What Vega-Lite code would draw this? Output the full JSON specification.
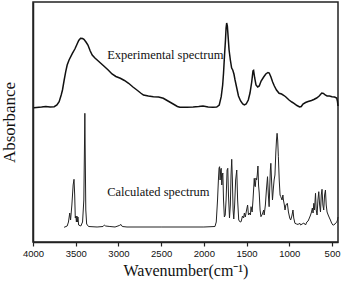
{
  "$schema": "https://vega.github.io/schema/vega-lite/v6.json",
  "width": 305,
  "height": 240,
  "autosize": "none",
  "padding": {"left": 33, "top": 2, "right": 5, "bottom": 47},
  "background": "white",
  "config": {"view": {"stroke": "#222", "strokeWidth": 1.5}, "axis": {"grid": false}},
  "datasets": {
    "exp": [
      {"wn": 3990, "A": 133.3}, {"wn": 3900, "A": 134}, {"wn": 3850, "A": 134.5}, {"wn": 3800, "A": 134},
      {"wn": 3752, "A": 134.3}, {"wn": 3720, "A": 136}, {"wn": 3694, "A": 139.3}, {"wn": 3670, "A": 146},
      {"wn": 3655, "A": 151}, {"wn": 3635, "A": 161}, {"wn": 3617, "A": 169.3}, {"wn": 3600, "A": 176},
      {"wn": 3578, "A": 181}, {"wn": 3539, "A": 187.7}, {"wn": 3510, "A": 192}, {"wn": 3489, "A": 196},
      {"wn": 3465, "A": 200.5}, {"wn": 3443, "A": 202.7}, {"wn": 3420, "A": 202.5}, {"wn": 3404, "A": 201.7},
      {"wn": 3380, "A": 199}, {"wn": 3357, "A": 196}, {"wn": 3330, "A": 190}, {"wn": 3307, "A": 186},
      {"wn": 3275, "A": 183}, {"wn": 3249, "A": 181}, {"wn": 3210, "A": 178}, {"wn": 3171, "A": 175},
      {"wn": 3120, "A": 171}, {"wn": 3075, "A": 167}, {"wn": 3030, "A": 164.5}, {"wn": 2978, "A": 162.7},
      {"wn": 2930, "A": 160.5}, {"wn": 2881, "A": 157.7}, {"wn": 2830, "A": 154}, {"wn": 2784, "A": 151},
      {"wn": 2740, "A": 148}, {"wn": 2707, "A": 146}, {"wn": 2650, "A": 145}, {"wn": 2591, "A": 144.3},
      {"wn": 2530, "A": 144}, {"wn": 2475, "A": 142.7}, {"wn": 2420, "A": 140}, {"wn": 2359, "A": 137},
      {"wn": 2310, "A": 134.5}, {"wn": 2281, "A": 133.7}, {"wn": 2200, "A": 133.7}, {"wn": 2126, "A": 134},
      {"wn": 2060, "A": 134.5}, {"wn": 2010, "A": 135}, {"wn": 1950, "A": 134}, {"wn": 1894, "A": 133.7},
      {"wn": 1850, "A": 134}, {"wn": 1820, "A": 136}, {"wn": 1797, "A": 144.3}, {"wn": 1780, "A": 156},
      {"wn": 1770, "A": 167.7}, {"wn": 1758, "A": 186}, {"wn": 1747, "A": 201}, {"wn": 1740, "A": 213},
      {"wn": 1733, "A": 218}, {"wn": 1725, "A": 215}, {"wn": 1715, "A": 203}, {"wn": 1705, "A": 191},
      {"wn": 1690, "A": 181}, {"wn": 1675, "A": 173}, {"wn": 1662, "A": 171}, {"wn": 1648, "A": 167},
      {"wn": 1635, "A": 161}, {"wn": 1615, "A": 153}, {"wn": 1595, "A": 145}, {"wn": 1570, "A": 140},
      {"wn": 1545, "A": 137}, {"wn": 1526, "A": 136}, {"wn": 1505, "A": 137}, {"wn": 1480, "A": 141},
      {"wn": 1460, "A": 148}, {"wn": 1440, "A": 159}, {"wn": 1425, "A": 170}, {"wn": 1418, "A": 170.5},
      {"wn": 1405, "A": 163}, {"wn": 1390, "A": 156}, {"wn": 1370, "A": 154}, {"wn": 1352, "A": 155},
      {"wn": 1330, "A": 160}, {"wn": 1300, "A": 164}, {"wn": 1275, "A": 167}, {"wn": 1250, "A": 168.5},
      {"wn": 1235, "A": 168}, {"wn": 1215, "A": 164}, {"wn": 1195, "A": 159}, {"wn": 1175, "A": 155},
      {"wn": 1150, "A": 151}, {"wn": 1120, "A": 147.7}, {"wn": 1090, "A": 147}, {"wn": 1062, "A": 145.5},
      {"wn": 1040, "A": 144}, {"wn": 1003, "A": 141}, {"wn": 970, "A": 139}, {"wn": 945, "A": 137.7},
      {"wn": 910, "A": 135.5}, {"wn": 880, "A": 134}, {"wn": 860, "A": 134.5}, {"wn": 840, "A": 137},
      {"wn": 810, "A": 138.5}, {"wn": 780, "A": 139.5}, {"wn": 740, "A": 140.5}, {"wn": 713, "A": 141.5},
      {"wn": 680, "A": 143}, {"wn": 650, "A": 145}, {"wn": 620, "A": 148}, {"wn": 600, "A": 147.5},
      {"wn": 580, "A": 146}, {"wn": 558, "A": 145}, {"wn": 530, "A": 145}, {"wn": 500, "A": 144.3},
      {"wn": 470, "A": 144}, {"wn": 445, "A": 143}, {"wn": 437, "A": 140}, {"wn": 430, "A": 135}
    ],
    "calc": [
      {"wn": 3636, "A": 13.7}, {"wn": 3600, "A": 15}, {"wn": 3585, "A": 19}, {"wn": 3570, "A": 28},
      {"wn": 3560, "A": 21}, {"wn": 3545, "A": 36}, {"wn": 3530, "A": 56}, {"wn": 3520, "A": 61.7},
      {"wn": 3512, "A": 46}, {"wn": 3505, "A": 23}, {"wn": 3498, "A": 25}, {"wn": 3492, "A": 19},
      {"wn": 3486, "A": 25}, {"wn": 3480, "A": 19}, {"wn": 3474, "A": 24}, {"wn": 3466, "A": 16},
      {"wn": 3440, "A": 15}, {"wn": 3420, "A": 19}, {"wn": 3405, "A": 41}, {"wn": 3398, "A": 91},
      {"wn": 3393, "A": 127.7}, {"wn": 3388, "A": 81}, {"wn": 3382, "A": 31}, {"wn": 3372, "A": 17},
      {"wn": 3350, "A": 14.5}, {"wn": 3250, "A": 14}, {"wn": 3180, "A": 14.5}, {"wn": 3164, "A": 16},
      {"wn": 3150, "A": 15}, {"wn": 3100, "A": 14.5}, {"wn": 3040, "A": 14}, {"wn": 2990, "A": 15.5},
      {"wn": 2970, "A": 16.5}, {"wn": 2955, "A": 14.5}, {"wn": 2900, "A": 14}, {"wn": 2500, "A": 14},
      {"wn": 2000, "A": 14}, {"wn": 1870, "A": 14.5}, {"wn": 1855, "A": 19}, {"wn": 1840, "A": 41},
      {"wn": 1830, "A": 61}, {"wn": 1822, "A": 73}, {"wn": 1816, "A": 74.3}, {"wn": 1810, "A": 61},
      {"wn": 1803, "A": 71}, {"wn": 1797, "A": 72.7}, {"wn": 1790, "A": 56}, {"wn": 1784, "A": 66},
      {"wn": 1778, "A": 68}, {"wn": 1770, "A": 41}, {"wn": 1760, "A": 24}, {"wn": 1750, "A": 26},
      {"wn": 1740, "A": 41}, {"wn": 1728, "A": 71}, {"wn": 1720, "A": 72.7}, {"wn": 1712, "A": 46},
      {"wn": 1700, "A": 23}, {"wn": 1690, "A": 36}, {"wn": 1682, "A": 66}, {"wn": 1674, "A": 81.7},
      {"wn": 1666, "A": 61}, {"wn": 1658, "A": 31}, {"wn": 1650, "A": 22}, {"wn": 1640, "A": 36},
      {"wn": 1628, "A": 61}, {"wn": 1615, "A": 71}, {"wn": 1605, "A": 41}, {"wn": 1592, "A": 21},
      {"wn": 1575, "A": 19}, {"wn": 1564, "A": 19.3}, {"wn": 1548, "A": 25}, {"wn": 1535, "A": 23},
      {"wn": 1526, "A": 28}, {"wn": 1515, "A": 24}, {"wn": 1500, "A": 31}, {"wn": 1488, "A": 36},
      {"wn": 1478, "A": 26}, {"wn": 1468, "A": 28}, {"wn": 1455, "A": 26}, {"wn": 1448, "A": 34.3},
      {"wn": 1435, "A": 29}, {"wn": 1425, "A": 41}, {"wn": 1410, "A": 62.7}, {"wn": 1404, "A": 55},
      {"wn": 1398, "A": 54.3}, {"wn": 1390, "A": 63}, {"wn": 1383, "A": 61}, {"wn": 1375, "A": 66},
      {"wn": 1367, "A": 75}, {"wn": 1360, "A": 56}, {"wn": 1352, "A": 48}, {"wn": 1342, "A": 31},
      {"wn": 1332, "A": 24.3}, {"wn": 1315, "A": 27}, {"wn": 1300, "A": 31}, {"wn": 1294, "A": 26},
      {"wn": 1280, "A": 36}, {"wn": 1268, "A": 51}, {"wn": 1255, "A": 64.3}, {"wn": 1245, "A": 46},
      {"wn": 1236, "A": 34.3}, {"wn": 1228, "A": 56}, {"wn": 1222, "A": 71}, {"wn": 1216, "A": 77.7},
      {"wn": 1208, "A": 61}, {"wn": 1197, "A": 41}, {"wn": 1188, "A": 51}, {"wn": 1178, "A": 61},
      {"wn": 1168, "A": 66}, {"wn": 1158, "A": 88}, {"wn": 1150, "A": 101}, {"wn": 1143, "A": 107.7},
      {"wn": 1136, "A": 101}, {"wn": 1128, "A": 84.3}, {"wn": 1118, "A": 61}, {"wn": 1108, "A": 46},
      {"wn": 1100, "A": 44.3}, {"wn": 1085, "A": 41}, {"wn": 1075, "A": 46}, {"wn": 1069, "A": 41},
      {"wn": 1058, "A": 36}, {"wn": 1050, "A": 31}, {"wn": 1040, "A": 36}, {"wn": 1023, "A": 37.7},
      {"wn": 1010, "A": 29}, {"wn": 995, "A": 23}, {"wn": 984, "A": 21}, {"wn": 970, "A": 25},
      {"wn": 957, "A": 31}, {"wn": 948, "A": 23}, {"wn": 934, "A": 17.7}, {"wn": 915, "A": 17},
      {"wn": 895, "A": 16.5}, {"wn": 880, "A": 18}, {"wn": 868, "A": 16}, {"wn": 850, "A": 17},
      {"wn": 830, "A": 18}, {"wn": 810, "A": 16}, {"wn": 795, "A": 19}, {"wn": 780, "A": 20},
      {"wn": 765, "A": 23}, {"wn": 751, "A": 26}, {"wn": 740, "A": 29}, {"wn": 730, "A": 33},
      {"wn": 722, "A": 28}, {"wn": 713, "A": 37.7}, {"wn": 705, "A": 31}, {"wn": 698, "A": 41},
      {"wn": 693, "A": 47.7}, {"wn": 685, "A": 31}, {"wn": 675, "A": 26}, {"wn": 665, "A": 41},
      {"wn": 655, "A": 49.3}, {"wn": 645, "A": 36}, {"wn": 635, "A": 29}, {"wn": 626, "A": 46},
      {"wn": 617, "A": 51.7}, {"wn": 607, "A": 36}, {"wn": 597, "A": 31}, {"wn": 587, "A": 46},
      {"wn": 577, "A": 51}, {"wn": 568, "A": 36}, {"wn": 558, "A": 29}, {"wn": 545, "A": 26},
      {"wn": 530, "A": 23}, {"wn": 519, "A": 21}, {"wn": 505, "A": 18}, {"wn": 490, "A": 16},
      {"wn": 481, "A": 16}, {"wn": 465, "A": 17}, {"wn": 452, "A": 18.5}, {"wn": 442, "A": 19.3},
      {"wn": 436, "A": 21}, {"wn": 430, "A": 24}
    ],
    "labels": [
      {"wn": 3132, "A": 186, "label": "Experimental spectrum"},
      {"wn": 3132, "A": 49.3, "label": "Calculated spectrum"}
    ]
  },
  "layer": [
    {
      "data": {"name": "exp"},
      "mark": {"type": "line", "color": "#111", "strokeWidth": 1.5},
      "encoding": {
        "x": {
          "field": "wn", "type": "quantitative",
          "scale": {"domain": [430, 4000], "reverse": true, "zero": false, "nice": false},
          "axis": {
            "values": [4000, 3750, 3500, 3250, 3000, 2750, 2500, 2250, 2000, 1750, 1500, 1250, 1000, 750, 500],
            "labelExpr": "datum.value % 500 === 0 ? datum.value : ''",
            "tickSize": {"condition": {"test": "datum.value % 500 === 0", "value": 4}, "value": 2.5},
            "tickColor": "#222", "tickWidth": 1.2,
            "domainColor": "#222", "domainWidth": 1.5,
            "labelFlush": false, "labelOverlap": false,
            "labelFont": "Liberation Sans", "labelFontSize": 9.5, "labelColor": "#111", "labelPadding": 2,
            "title": "Wavenumber(cm\u207b\u00b9)",
            "titleFont": "Times New Roman, Liberation Serif, serif", "titleFontSize": 16, "titleFontWeight": "normal",
            "titleColor": "#111", "titlePadding": 5
          }
        },
        "y": {
          "field": "A", "type": "quantitative",
          "scale": {"domain": [-1, 239], "zero": false, "nice": false},
          "axis": {
            "ticks": false, "labels": false,
            "domainColor": "#222", "domainWidth": 1.5,
            "title": "Absorbance",
            "titleFont": "Times New Roman, Liberation Serif, serif", "titleFontSize": 17, "titleFontWeight": "normal",
            "titleColor": "#111", "titlePadding": 15
          }
        }
      }
    },
    {
      "data": {"name": "calc"},
      "mark": {"type": "line", "color": "#222", "strokeWidth": 1},
      "encoding": {
        "x": {"field": "wn", "type": "quantitative"},
        "y": {"field": "A", "type": "quantitative"}
      }
    },
    {
      "data": {"name": "labels"},
      "mark": {"type": "text", "align": "left", "baseline": "middle", "font": "Times New Roman, Liberation Serif, serif", "fontSize": 12.5, "color": "#111"},
      "encoding": {
        "x": {"field": "wn", "type": "quantitative"},
        "y": {"field": "A", "type": "quantitative"},
        "text": {"field": "label"}
      }
    }
  ]
}
